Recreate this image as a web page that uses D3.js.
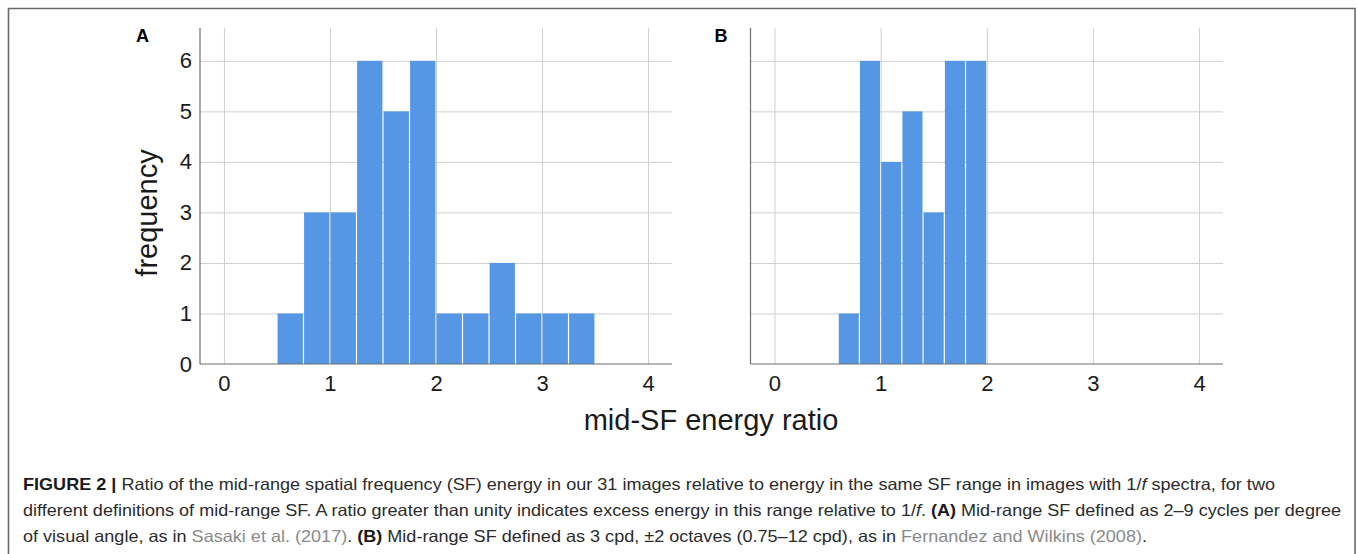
<!DOCTYPE html>
<html lang="en">
<head>
<meta charset="UTF-8">
<title>Mid-SF energy ratio histograms</title>
<script src="https://cdn.jsdelivr.net/npm/d3@7"></script>
<style>
    body { margin: 0; background: #fff; }
    svg { display: block; }
    .axis text { font-family: "Liberation Sans", Arial, sans-serif; fill: #1a1a1a; }
    .caption { font-family: "Liberation Sans Narrow", "Liberation Sans", Arial, sans-serif; font-size: 16.5px; fill: #2b2b2b; }
</style>
</head>
<body>
<svg width="1357" height="554"></svg>
<script>
    // histogram bins
    const edgesA = [0.5, 0.75, 1.0, 1.25, 1.5, 1.75, 2.0, 2.25, 2.5, 2.75, 3.0, 3.25, 3.5];
    const countsA = [1, 3, 3, 6, 5, 6, 1, 1, 2, 1, 1, 1];
    const edgesB = [0.6, 0.8, 1.0, 1.2, 1.4, 1.6, 1.8, 2.0];
    const countsB = [1, 6, 4, 5, 3, 6, 6];
    const xTicks = [0, 1, 2, 3, 4];
    const yTicks = [0, 1, 2, 3, 4, 5, 6];

    const captionLines = [
        [["FIGURE 2 | ", "b"], ["Ratio of the mid-range spatial frequency (SF) energy in our 31 images relative to energy in the same SF range in images with 1/"], ["f", "i"], [" spectra, for two"]],
        [["different definitions of mid-range SF. A ratio greater than unity indicates excess energy in this range relative to 1/"], ["f", "i"], [". "], ["(A)", "b"], [" Mid-range SF defined as 2\u20139 cycles per degree"]],
        [["of visual angle, as in "], ["Sasaki et al. (2017)", "g"], [". "], ["(B)", "b"], [" Mid-range SF defined as 3 cpd, \u00b12 octaves (0.75\u201312 cpd), as in "], ["Fernandez and Wilkins (2008)", "g"], ["."]]
    ];
    const captionWidths = [1252, 1318, 1124];

    const svg = d3.select("svg");
    const plotTop = 28, plotBottom = 364;
    const blue = "#5596e5";

    const y = d3.scaleLinear().domain([0, 6.65]).range([plotBottom, plotTop]);

    function panel(left, right, edges, counts, letter, letterX, showY) {
        const x = d3.scaleLinear().domain([-0.226, 4.226]).range([left, right]);
        const g = svg.append("g");

        // grid
        g.append("g")
            .attr("transform", `translate(0,${plotBottom})`)
            .call(d3.axisBottom(x).tickValues(xTicks).tickSize(-(plotBottom - plotTop)).tickFormat(""))
            .call(s => s.select(".domain").remove())
            .call(s => s.selectAll("line").attr("stroke", "#cfcfcf"));
        g.append("g")
            .attr("transform", `translate(${left},0)`)
            .call(d3.axisLeft(y).tickValues(yTicks.slice(1)).tickSize(-(right - left)).tickFormat(""))
            .call(s => s.select(".domain").remove())
            .call(s => s.selectAll("line").attr("stroke", "#cfcfcf"));

        // bars
        g.selectAll(".bar")
            .data(counts)
            .join("rect")
            .attr("class", "bar")
            .attr("x", (d, i) => x(edges[i]) + 0.6)
            .attr("width", (d, i) => x(edges[i + 1]) - x(edges[i]) - 1.2)
            .attr("y", d => y(d))
            .attr("height", d => y(0) - y(d))
            .attr("fill", blue);

        // axis lines
        g.append("line").attr("x1", left).attr("x2", right).attr("y1", plotBottom).attr("y2", plotBottom)
            .attr("stroke", "#6e6e6e").attr("stroke-width", 1.2);
        g.append("line").attr("x1", left).attr("x2", left).attr("y1", plotTop).attr("y2", plotBottom)
            .attr("stroke", "#6e6e6e").attr("stroke-width", 1.2);

        // tick labels
        g.append("g").attr("class", "axis")
            .attr("transform", `translate(0,${plotBottom})`)
            .call(d3.axisBottom(x).tickValues(xTicks).tickFormat(d3.format("d")).tickSize(0).tickPadding(11))
            .call(s => s.select(".domain").remove())
            .call(s => s.selectAll("text").attr("font-size", 22).attr("dy", "0.71em"));
        if (showY) {
            g.append("g").attr("class", "axis")
                .attr("transform", `translate(${left},0)`)
                .call(d3.axisLeft(y).tickValues(yTicks).tickFormat(d3.format("d")).tickSize(0).tickPadding(8))
                .call(s => s.select(".domain").remove())
                .call(s => s.selectAll("text").attr("font-size", 22));
        }

        g.append("text")
            .attr("x", letterX).attr("y", 41.5)
            .attr("text-anchor", "middle")
            .attr("font-family", "Liberation Sans, Arial, sans-serif")
            .attr("font-weight", "bold")
            .attr("font-size", 18)
            .text(letter);
    }

    // frame
    svg.append("path")
        .attr("d", "M8.5,600 V8.5 H1355 V600")
        .attr("fill", "none")
        .attr("stroke", "#6a6a6a")
        .attr("stroke-width", 1.6);

    panel(200, 672, edgesA, countsA, "A", 142.5, true);
    panel(750.5, 1223, edgesB, countsB, "B", 721, false);

    svg.append("text")
        .attr("transform", "translate(157,213) rotate(-90)")
        .attr("text-anchor", "middle")
        .attr("font-family", "Liberation Sans, Arial, sans-serif")
        .attr("font-size", 29)
        .attr("fill", "#1a1a1a")
        .text("frequency");

    svg.append("text")
        .attr("x", 711).attr("y", 430)
        .attr("text-anchor", "middle")
        .attr("font-family", "Liberation Sans, Arial, sans-serif")
        .attr("font-size", 29)
        .attr("fill", "#1a1a1a")
        .text("mid-SF energy ratio");

    // caption
    captionLines.forEach((segs, i) => {
        const t = svg.append("text")
            .attr("class", "caption")
            .attr("x", 23)
            .attr("y", 490 + i * 26)
            .attr("textLength", captionWidths[i])
            .attr("lengthAdjust", "spacingAndGlyphs");
        segs.forEach(([str, style]) => {
            const ts = t.append("tspan").text(str);
            if (style === "b") ts.attr("font-weight", "bold").attr("fill", "#1a1a1a");
            if (style === "i") ts.attr("font-style", "italic");
            if (style === "g") ts.attr("fill", "#8a8a8a");
        });
    });
</script>
</body>
</html>
